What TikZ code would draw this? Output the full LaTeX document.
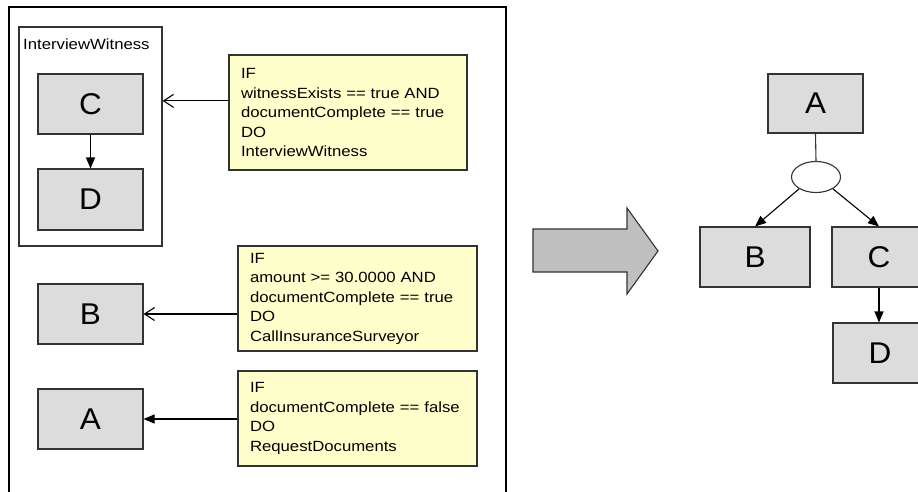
\documentclass[tikz,border=0pt]{standalone}
\usepackage{fontspec}
\setmainfont{Liberation Sans}
\newfontfamily\notefont{Liberation Sans}[FakeStretch=1.13]
\newfontfamily\letterfont{Liberation Sans}[FakeStretch=1.05]
\usetikzlibrary{arrows.meta,shapes.geometric,calc}

\definecolor{boxgray}{HTML}{DCDCDC}
\definecolor{noteyellow}{HTML}{FFFFCC}
\definecolor{edgegray}{HTML}{333333}
\definecolor{bigarrowgray}{HTML}{C0C0C0}

\tikzset{
  taskbox/.style={draw=edgegray, fill=boxgray, line width=1.1pt, inner sep=0pt,
    font=\letterfont\fontsize{30}{36}\selectfont},
  rulebox/.style={draw=edgegray, fill=noteyellow, line width=1.1pt,
    inner xsep=12pt, inner ysep=0pt, align=left,
    font=\notefont\fontsize{14.8}{19.5}\selectfont},
  groupbox/.style={draw=edgegray, line width=1.1pt, inner sep=0pt},
  link/.style={line width=1.1pt, draw=black},
  openhead/.style={-{Straight Barb[length=10pt,width=13pt]}},
  solidhead/.style={-{Triangle[length=11pt,width=9pt]}},
}

\begin{document}
\begin{tikzpicture}[x=1pt,y=-1pt]
\useasboundingbox (0,0) rectangle (918,491);

% rule set frame (open at the bottom)
\draw[line width=1.3pt] (9,495) -- (9,7) -- (506,7) -- (506,495);

% composite task InterviewWitness
\node[groupbox, minimum width=143pt, minimum height=219pt] (iw) at (90.5,136.5) {};
\node[anchor=base west, inner sep=0pt, font=\notefont\fontsize{14.8}{19.5}\selectfont]
  (iwlabel) at (23,49) {InterviewWitness};
\node[taskbox, minimum width=105pt, minimum height=60pt] (lC) at (90.5,104) {C};
\node[taskbox, minimum width=105pt, minimum height=61pt] (lD) at (90.5,199.5) {D};
\draw[link, solidhead] (lC) -- (lD);

% single tasks
\node[taskbox, minimum width=105pt, minimum height=60pt] (lB) at (90.5,314) {B};
\node[taskbox, minimum width=105pt, minimum height=60pt] (lA) at (90.5,419) {A};

% rules
\node[rulebox, text width=214pt, minimum height=115pt] (r1) at (348,112.5)
  {IF\\witnessExists == true AND\\documentComplete == true\\DO\\InterviewWitness};
\node[rulebox, text width=215pt, minimum height=105pt] (r2) at (357.5,298.5)
  {IF\\amount >= 30.0000 AND\\documentComplete == true\\DO\\CallInsuranceSurveyor};
\node[rulebox, text width=215pt, minimum height=95pt] (r3) at (357.5,418.5)
  {IF\\documentComplete == false\\DO\\RequestDocuments};

\coordinate (r1out) at ($(r1.north west)!0.4!(r1.south west)$);
\draw[link, openhead] (r1out) -- (r1out -| iw.east);
\draw[link, openhead] (lB.east -| r2.west) -- (lB.east);
\draw[link, solidhead] (lA.east -| r3.west) -- (lA.east);

% transformation arrow
\draw[edgegray, fill=bigarrowgray, line width=1.1pt, line join=miter]
  (533,229) -- (627,229) -- (627,208) -- (658,251) -- (627,294) -- (627,272) -- (533,272) -- cycle;

% resulting process
\node[taskbox, minimum width=95pt, minimum height=59pt] (rA) at (815.5,103.5) {A};
\node[draw=edgegray, fill=white, line width=1.1pt, ellipse, inner sep=0pt,
  minimum width=49pt, minimum height=31pt] (split) at (816,177) {};
\node[taskbox, minimum width=110pt, minimum height=60pt] (rB) at (755,257) {B};
\node[taskbox, minimum width=94pt, minimum height=60pt] (rC) at (879,257) {C};
\node[taskbox, minimum width=94pt, minimum height=60pt] (rD) at (880,353) {D};

\draw[link, draw=edgegray] (rA.south) -- (split.north);
\draw[link, solidhead] (split.-145) -- (rB.north);
\draw[link, solidhead] (split.-35) -- (rC.north);
\draw[link, solidhead] (rC.south) -- (rC.south |- rD.north);
\end{tikzpicture}
\end{document}
